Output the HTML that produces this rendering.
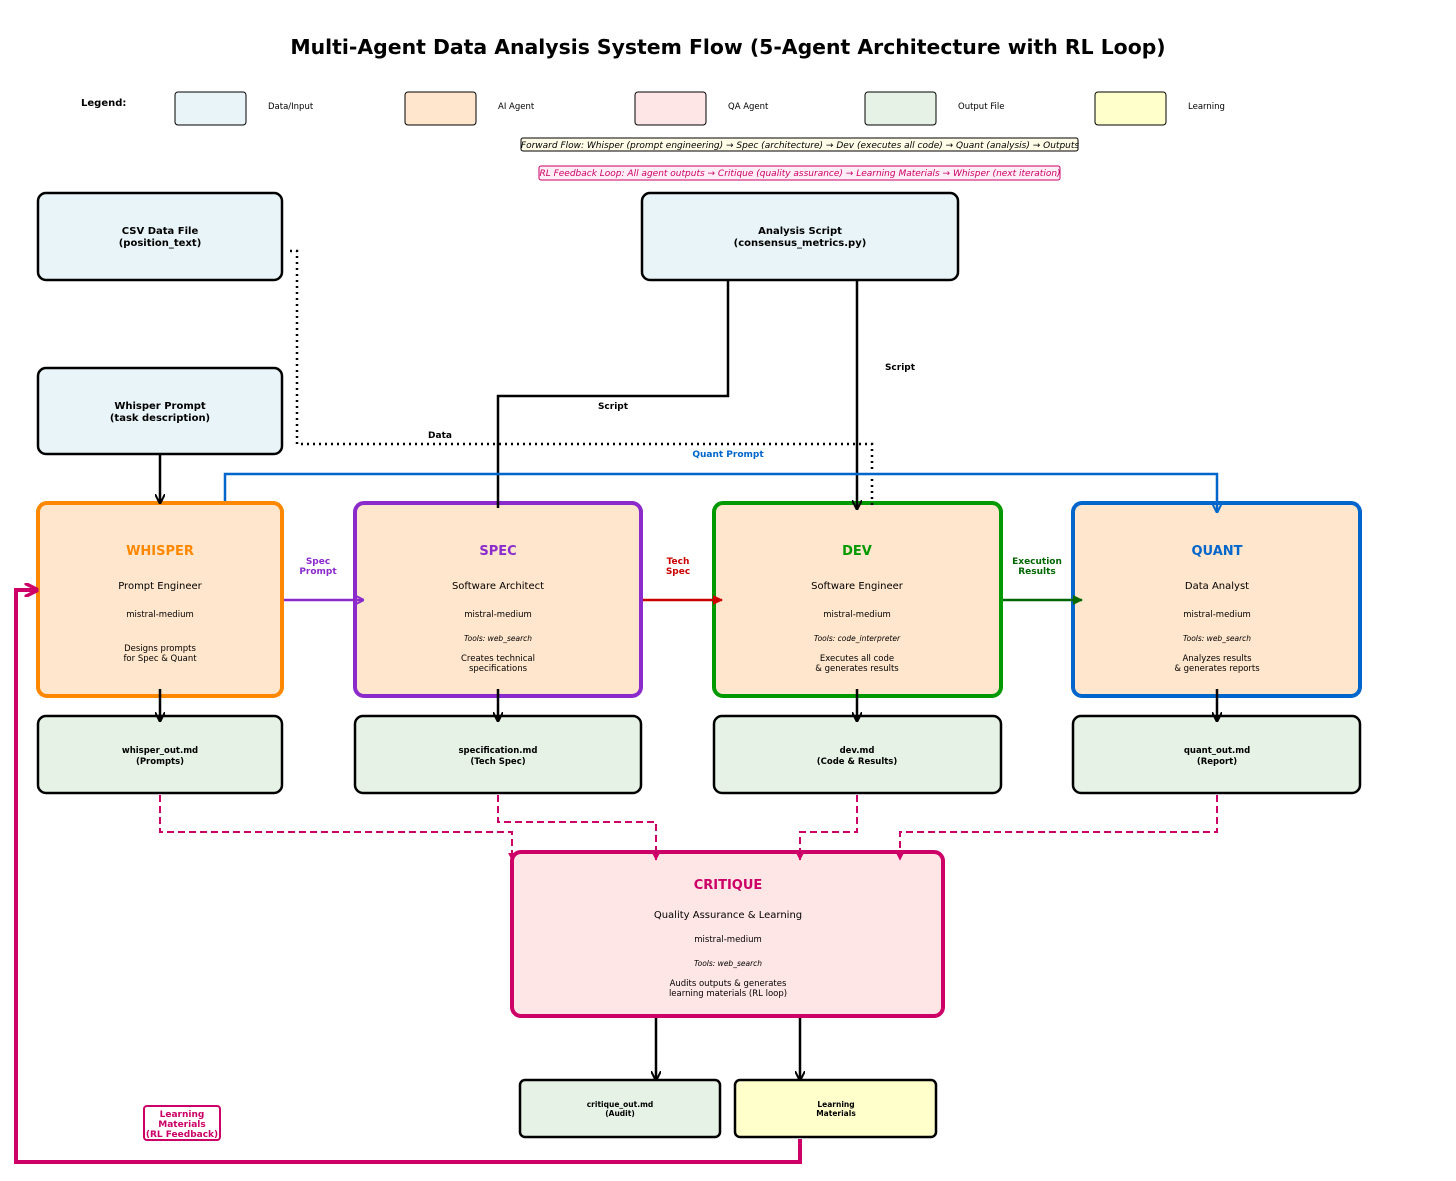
<!DOCTYPE html>
<html><head><meta charset="utf-8"><style>body{margin:0;background:#fff}svg{display:block;font-family:"DejaVu Sans","Liberation Sans",sans-serif}</style></head><body>
<svg width="1456" height="1181" viewBox="0 0 1456 1181" xmlns="http://www.w3.org/2000/svg">
<defs>
<marker id="ak" viewBox="0 0 10 10" refX="9" refY="5" markerWidth="10" markerHeight="10" markerUnits="userSpaceOnUse" orient="auto"><path d="M0,0 L10,5 L0,10" fill="none" stroke="#000" stroke-width="2"/></marker>
<marker id="ap" viewBox="0 0 10 10" refX="9" refY="5" markerWidth="10" markerHeight="10" markerUnits="userSpaceOnUse" orient="auto"><path d="M0,0 L10,5 L0,10" fill="none" stroke="#8b2bcc" stroke-width="2"/></marker>
<marker id="ar" viewBox="0 0 10 10" refX="9" refY="5" markerWidth="10" markerHeight="10" markerUnits="userSpaceOnUse" orient="auto"><path d="M0,0 L10,5 L0,10 z" fill="#cc0000"/></marker>
<marker id="ag" viewBox="0 0 10 10" refX="9" refY="5" markerWidth="10" markerHeight="10" markerUnits="userSpaceOnUse" orient="auto"><path d="M0,0 L10,5 L0,10 z" fill="#006600"/></marker>
<marker id="ab" viewBox="0 0 10 10" refX="9" refY="5" markerWidth="10" markerHeight="10" markerUnits="userSpaceOnUse" orient="auto"><path d="M0,0 L10,5 L0,10" fill="none" stroke="#0066cc" stroke-width="2"/></marker>
<marker id="am" viewBox="0 0 10 10" refX="9" refY="5" markerWidth="8" markerHeight="8" markerUnits="userSpaceOnUse" orient="auto"><path d="M0,0 L10,5 L0,10 z" fill="#cc0066"/></marker>
<marker id="am2" viewBox="0 0 10 10" refX="9" refY="5" markerWidth="14" markerHeight="14" markerUnits="userSpaceOnUse" orient="auto"><path d="M0,0 L10,5 L0,10" fill="none" stroke="#cc0066" stroke-width="2.5"/></marker>
</defs>
<text x="728" y="54" text-anchor="middle" font-size="20.4" font-weight="bold">Multi-Agent Data Analysis System Flow (5-Agent Architecture with RL Loop)</text>
<text x="81" y="106" font-size="10" font-weight="bold">Legend:</text>
<g stroke="#000" stroke-width="1">
<rect x="175" y="92" width="71" height="33" rx="3" fill="#e8f4f8"/>
<rect x="405" y="92" width="71" height="33" rx="3" fill="#ffe6cc"/>
<rect x="635" y="92" width="71" height="33" rx="3" fill="#ffe6e6"/>
<rect x="865" y="92" width="71" height="33" rx="3" fill="#e6f2e6"/>
<rect x="1095" y="92" width="71" height="33" rx="3" fill="#ffffcc"/>
</g>
<g font-size="8.5"><text x="268" y="109">Data/Input</text><text x="498" y="109">AI Agent</text><text x="728" y="109">QA Agent</text><text x="958" y="109">Output File</text><text x="1188" y="109">Learning</text></g>
<rect x="521" y="138" width="557" height="13" rx="2" fill="#fffde8" stroke="#000" stroke-width="1"/>
<text x="800" y="148" text-anchor="middle" font-size="9" font-style="italic">Forward Flow: Whisper (prompt engineering) → Spec (architecture) → Dev (executes all code) → Quant (analysis) → Outputs</text>
<rect x="539" y="166" width="521" height="14" rx="2" fill="#ffeef6" stroke="#cc0066" stroke-width="1"/>
<text x="800" y="176" text-anchor="middle" font-size="9" font-style="italic" fill="#cc0066">RL Feedback Loop: All agent outputs → Critique (quality assurance) → Learning Materials → Whisper (next iteration)</text>

<g stroke="#000" stroke-width="2.5">
<rect x="38" y="193" width="244" height="87" rx="8" fill="#e8f4f8"/>
<rect x="642" y="193" width="316" height="87" rx="8" fill="#e8f4f8"/>
<rect x="38" y="368" width="244" height="86" rx="8" fill="#e8f4f8"/>
<rect x="38" y="716" width="244" height="77" rx="8" fill="#e6f2e6"/>
<rect x="355" y="716" width="286" height="77" rx="8" fill="#e6f2e6"/>
<rect x="714" y="716" width="287" height="77" rx="8" fill="#e6f2e6"/>
<rect x="1073" y="716" width="287" height="77" rx="8" fill="#e6f2e6"/>
<rect x="520" y="1080" width="200" height="57" rx="5" fill="#e6f2e6"/>
<rect x="735" y="1080" width="201" height="57" rx="5" fill="#ffffcc"/>
</g>
<g stroke-width="4" fill="#ffe6cc">
<rect x="38" y="503" width="244" height="193" rx="9" stroke="#ff8800"/>
<rect x="355" y="503" width="286" height="193" rx="9" stroke="#8b2bcc"/>
<rect x="714" y="503" width="287" height="193" rx="9" stroke="#009900"/>
<rect x="1073" y="503" width="287" height="193" rx="9" stroke="#0066cc"/>
<rect x="512" y="852" width="431" height="164" rx="9" stroke="#cc0066" fill="#ffe6e6"/>
</g>

<path d="M728,280 V396 H498 V508" fill="none" stroke="#000" stroke-width="2.5"/>
<text x="613" y="409" text-anchor="middle" font-size="9" font-weight="bold">Script</text>
<path d="M857,280 V509" fill="none" stroke="#000" stroke-width="2.5" marker-end="url(#ak)"/>
<text x="900" y="370" text-anchor="middle" font-size="9" font-weight="bold">Script</text>
<path d="M290,251 H297 V444 H872 V507" fill="none" stroke="#000" stroke-width="2.5" stroke-dasharray="2,4"/>
<text x="440" y="438" text-anchor="middle" font-size="9" font-weight="bold">Data</text>
<path d="M225,501 V474 H1217 V512" fill="none" stroke="#0066cc" stroke-width="2.5" marker-end="url(#ab)"/>
<text x="728" y="457" text-anchor="middle" font-size="9" font-weight="bold" fill="#0066cc">Quant Prompt</text>
<path d="M160,454 V503" stroke="#000" stroke-width="2.5" marker-end="url(#ak)"/>

<path d="M284,600 H363" stroke="#8b2bcc" stroke-width="2.5" marker-end="url(#ap)"/>
<text x="318" y="564" text-anchor="middle" font-size="9" font-weight="bold" fill="#8b2bcc">Spec</text>
<text x="318" y="574" text-anchor="middle" font-size="9" font-weight="bold" fill="#8b2bcc">Prompt</text>
<path d="M643,600 H722" stroke="#cc0000" stroke-width="2.5" marker-end="url(#ar)"/>
<text x="678" y="564" text-anchor="middle" font-size="9" font-weight="bold" fill="#cc0000">Tech</text>
<text x="678" y="574" text-anchor="middle" font-size="9" font-weight="bold" fill="#cc0000">Spec</text>
<path d="M1003,600 H1082" stroke="#006600" stroke-width="2.5" marker-end="url(#ag)"/>
<text x="1037" y="564" text-anchor="middle" font-size="9" font-weight="bold" fill="#006600">Execution</text>
<text x="1037" y="574" text-anchor="middle" font-size="9" font-weight="bold" fill="#006600">Results</text>

<g stroke="#000" stroke-width="2.5" marker-end="url(#ak)">
<path d="M160,689 V721"/><path d="M498,689 V721"/><path d="M857,689 V721"/><path d="M1217,689 V721"/>
<path d="M656,1018 V1080"/><path d="M800,1018 V1080"/>
</g>
<g fill="none" stroke="#cc0066" stroke-width="2" stroke-dasharray="7,4" marker-end="url(#am)">
<path d="M160,795 V832 H512 V860"/><path d="M498,795 V822 H656 V860"/><path d="M857,795 V832 H800 V860"/><path d="M1217,795 V832 H900 V860"/>
</g>
<path d="M800,1139 V1162 H16 V590 H37" fill="none" stroke="#cc0066" stroke-width="4" marker-end="url(#am2)"/>

<rect x="144" y="1106" width="76" height="34" rx="3" fill="#fff" stroke="#cc0066" stroke-width="2"/>
<g font-size="9" font-weight="bold" fill="#cc0066" text-anchor="middle"><text x="182" y="1117">Learning</text><text x="182" y="1127">Materials</text><text x="182" y="1137">(RL Feedback)</text></g>

<g font-size="10" font-weight="bold" text-anchor="middle">
<text x="160" y="234">CSV Data File</text><text x="160" y="246">(position_text)</text>
<text x="800" y="234">Analysis Script</text><text x="800" y="246">(consensus_metrics.py)</text>
<text x="160" y="409">Whisper Prompt</text><text x="160" y="421">(task description)</text>
</g>
<g font-size="8.5" font-weight="bold" text-anchor="middle">
<text x="160" y="753">whisper_out.md</text><text x="160" y="764">(Prompts)</text>
<text x="498" y="753">specification.md</text><text x="498" y="764">(Tech Spec)</text>
<text x="857" y="753">dev.md</text><text x="857" y="764">(Code &amp; Results)</text>
<text x="1217" y="753">quant_out.md</text><text x="1217" y="764">(Report)</text>
</g>
<g font-size="7.5" font-weight="bold" text-anchor="middle">
<text x="620" y="1107">critique_out.md</text><text x="620" y="1116">(Audit)</text>
<text x="836" y="1107">Learning</text><text x="836" y="1116">Materials</text>
</g>

<g text-anchor="middle">
<text x="160" y="555" font-size="13" font-weight="bold" fill="#ff8800">WHISPER</text>
<text x="160" y="589" font-size="10">Prompt Engineer</text>
<text x="160" y="617" font-size="8.5">mistral-medium</text>
<text x="160" y="651" font-size="8.5">Designs prompts</text><text x="160" y="661" font-size="8.5">for Spec &amp; Quant</text>

<text x="498" y="555" font-size="13" font-weight="bold" fill="#8b2bcc">SPEC</text>
<text x="498" y="589" font-size="10">Software Architect</text>
<text x="498" y="617" font-size="8.5">mistral-medium</text>
<text x="498" y="641" font-size="7.5" font-style="italic">Tools: web_search</text>
<text x="498" y="661" font-size="8.5">Creates technical</text><text x="498" y="671" font-size="8.5">specifications</text>

<text x="857" y="555" font-size="13" font-weight="bold" fill="#009900">DEV</text>
<text x="857" y="589" font-size="10">Software Engineer</text>
<text x="857" y="617" font-size="8.5">mistral-medium</text>
<text x="857" y="641" font-size="7.5" font-style="italic">Tools: code_interpreter</text>
<text x="857" y="661" font-size="8.5">Executes all code</text><text x="857" y="671" font-size="8.5">&amp; generates results</text>

<text x="1217" y="555" font-size="13" font-weight="bold" fill="#0066cc">QUANT</text>
<text x="1217" y="589" font-size="10">Data Analyst</text>
<text x="1217" y="617" font-size="8.5">mistral-medium</text>
<text x="1217" y="641" font-size="7.5" font-style="italic">Tools: web_search</text>
<text x="1217" y="661" font-size="8.5">Analyzes results</text><text x="1217" y="671" font-size="8.5">&amp; generates reports</text>

<text x="728" y="889" font-size="13" font-weight="bold" fill="#cc0066">CRITIQUE</text>
<text x="728" y="918" font-size="10">Quality Assurance &amp; Learning</text>
<text x="728" y="942" font-size="8.5">mistral-medium</text>
<text x="728" y="966" font-size="7.5" font-style="italic">Tools: web_search</text>
<text x="728" y="986" font-size="8.5">Audits outputs &amp; generates</text><text x="728" y="996" font-size="8.5">learning materials (RL loop)</text>
</g>
</svg>
</body></html>
